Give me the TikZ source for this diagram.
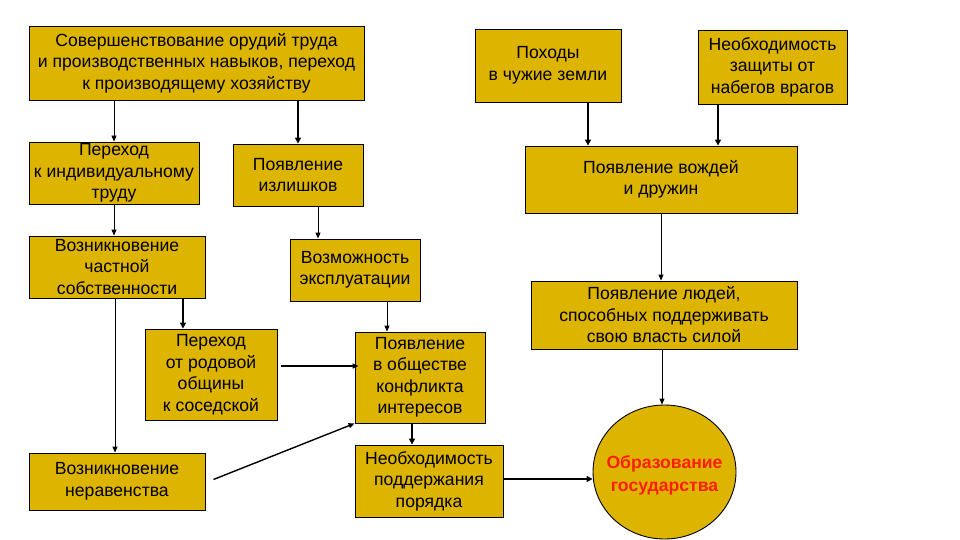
\documentclass[tikz,border=0pt]{standalone}
\usepackage{fontspec}
\setmainfont{Liberation Sans}
\usetikzlibrary{arrows.meta,shapes.geometric}
\definecolor{gold}{RGB}{221,180,0}
\definecolor{redtxt}{RGB}{255,30,0}
\tikzset{
  box/.style={draw=black, line width=0.9pt, fill=gold, align=center, inner sep=0pt,
    font=\fontsize{17.6}{21.5}\selectfont},
  thin arr/.style={draw, line width=0.9pt, -{Triangle[length=6pt,width=5pt]}},
  thick arr/.style={draw, line width=1.8pt, -{Triangle[length=6pt,width=6pt]}},
  redlabel/.style={text=redtxt, align=center, inner sep=0pt,
    font=\fontsize{17.6}{23}\selectfont\bfseries},
}
\begin{document}
\begin{tikzpicture}[x=1pt,y=-1pt]
\useasboundingbox (0,0) rectangle (960,540);
\fill[white] (0,0) rectangle (960,540);

\node[box, minimum width=335, minimum height=74] (b1) at (196.5,63)
  {Совершенствование орудий труда\\и производственных навыков, переход\\к производящему хозяйству};
\node[box, minimum width=146, minimum height=73] (pohody) at (548,65.5)
  {Походы\\в чужие земли};
\node[box, minimum width=149, minimum height=74] (zashch) at (772.5,67)
  {Необходимость\\защиты от\\набегов врагов};
\node[box, minimum width=272, minimum height=67] (vozhd) at (661,179.5)
  {Появление вождей\\и дружин};
\node[box, minimum width=170, minimum height=62] (indiv) at (114,173)
  {Переход\\к индивидуальному\\труду};
\node[box, minimum width=130, minimum height=62] (izl) at (298,175)
  {Появление\\излишков};
\node[box, minimum width=176, minimum height=62] (chast) at (117,267)
  {Возникновение\\частной\\собственности};
\node[box, minimum width=130, minimum height=62] (expl) at (355,270)
  {Возможность\\эксплуатации};
\node[box, minimum width=132, minimum height=91] (rodov) at (211,374.5)
  {Переход\\от родовой\\общины\\к соседской};
\node[box, minimum width=130, minimum height=91] (konfl) at (420,377.5)
  {Появление\\в обществе\\конфликта\\интересов};
\node[box, minimum width=176, minimum height=57] (nerav) at (117,481.5)
  {Возникновение\\неравенства};
\node[box, minimum width=148, minimum height=72] (poryad) at (429,481)
  {Необходимость\\поддержания\\порядка};
\node[box, minimum width=266, minimum height=68] (lyudi) at (664,315)
  {Появление людей,\\способных поддерживать\\свою власть силой};
\node[box, ellipse, minimum width=143, minimum height=134] (circ) at (664.5,472) {};
\node[redlabel] (circtxt) at ([yshift=-3.5pt]circ.center) {Образование\\государства};

\draw[thin arr] (indiv.north |- b1.south) -- (indiv.north);
\draw[thick arr] (izl.north |- b1.south) -- (izl.north);
\draw[thin arr] (indiv.south) -- (indiv.south |- chast.north);
\draw[thin arr] ([xshift=20pt]izl.south) -- ([xshift=20pt]izl.south |- expl.north);
\draw[thin arr] ([xshift=32pt]expl.south) -- ([xshift=32pt]expl.south |- konfl.north);
\draw[thick arr] ([xshift=66pt]chast.south) -- ([xshift=66pt]chast.south |- rodov.north);
\draw[thin arr] ([xshift=-2pt]chast.south) -- ([xshift=-2pt]chast.south |- nerav.north);
\draw[line width=1.3pt, -{Triangle[length=6pt,width=5pt]}] ([xshift=4pt,yshift=8.5pt]rodov.east) -- ([xshift=4pt,yshift=8.5pt]rodov.east -| konfl.west);
\draw[line width=1.4pt, -{Triangle[length=6pt,width=5pt]}] ([xshift=8pt,yshift=2pt]nerav.east) -- (konfl.south west);
\draw[thick arr] ([xshift=-8pt]konfl.south) -- ([xshift=-8pt]konfl.south |- poryad.north);
\draw[thick arr] ([yshift=2pt]poryad.east) -- ([yshift=2pt]poryad.east -| circ.west);
\draw[thick arr] ([xshift=40pt]pohody.south) -- ([xshift=40pt]pohody.south |- vozhd.north);
\draw[thick arr] ([xshift=-54.5pt]zashch.south) -- ([xshift=-54.5pt]zashch.south |- vozhd.north);
\draw[thin arr] (vozhd.south) -- (vozhd.south |- lyudi.north);
\draw[thin arr] ([xshift=-2pt]lyudi.south) -- ([xshift=-2pt]lyudi.south |- circ.north);
\end{tikzpicture}
\end{document}
